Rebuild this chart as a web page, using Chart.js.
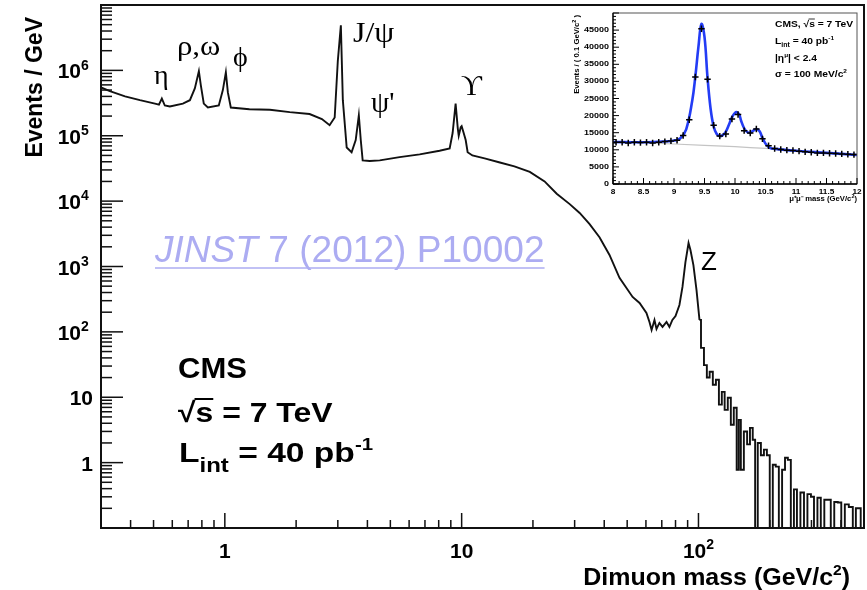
<!DOCTYPE html>
<html>
<head>
<meta charset="utf-8">
<script src="https://cdn.jsdelivr.net/npm/chart.js@4.4.1/dist/chart.umd.min.js"></script>
<style>
  html, body { margin: 0; padding: 0; background: #fff; }
  #wrap { position: relative; width: 867px; height: 590px; overflow: hidden; }
  #main { position: absolute; left: 0; top: 0; }
  #inset { position: absolute; left: 555px; top: 0; }
</style>
</head>
<body>
<div id="wrap">
  <canvas id="main" width="867" height="590"></canvas>
  <canvas id="inset" width="312" height="205"></canvas>
</div>
<script>
// espectro de masa dimuonica (parte continua), GeV / eventos por GeV
const masas = [0.30, 0.327, 0.379, 0.438, 0.507, 0.527, 0.542, 0.558, 0.586, 0.665,
  0.712, 0.747, 0.777, 0.792, 0.815, 0.848, 0.943, 0.981, 1.01, 1.03,
  1.06, 1.27, 1.55, 1.88, 2.28, 2.57, 2.77, 2.91, 3.00, 3.09,
  3.15, 3.27, 3.43, 3.57, 3.68, 3.75, 3.82, 4.09, 4.51, 5.47,
  6.65, 8.07, 8.90, 9.16, 9.43, 9.63, 9.72, 9.91, 10.0, 10.2,
  10.4, 10.6, 11.1, 12.5, 14.5, 16.7, 19.4, 22.4, 25.2, 28.6,
  31.5, 34.7, 38.2, 42.1, 46.4, 52.7, 56.4, 60.3, 62.1, 63.4,
  65.2, 66.5, 68.4, 70.5, 73.3, 75.4, 77.6, 80.0, 83.1, 85.6,
  88.1, 90.8, 92.5, 95.2, 98.1, 101];
const eventos = [5.5e5, 4.8e5, 4.0e5, 3.5e5, 3.1e5, 3.0e5, 3.7e5, 2.9e5, 2.8e5, 3.1e5,
  3.5e5, 5.3e5, 9.7e5, 5.9e5, 3.1e5, 2.7e5, 2.9e5, 5.0e5, 9.3e5, 4.6e5,
  2.7e5, 2.54e5, 2.5e5, 2.3e5, 2.15e5, 1.8e5, 1.45e5, 1.9e5, 1.4e6, 4.9e6,
  3.5e5, 6.6e4, 5.6e4, 8.6e4, 2.05e5, 8.6e4, 4.2e4, 4.1e4, 4.2e4, 4.7e4,
  5.2e4, 5.9e4, 6.4e4, 1.1e5, 3.1e5, 1.3e5, 1.0e5, 1.35e5, 1.4e5, 1.1e5,
  8.6e4, 5.6e4, 5.0e4, 4.5e4, 3.9e4, 3.4e4, 2.8e4, 2.0e4, 1.3e4, 9000,
  6600, 4450, 2800, 1500, 670, 342, 277, 195, 142, 107,
  152, 111, 137, 119, 142, 119, 152, 175, 258, 486,
  1170, 2290, 1790, 1050, 438, 152];

// cola de alta masa (bines con pocas entradas, 0 = bin vacio)
const masasCola = [101, 104, 107, 110, 113, 117, 120, 124, 127, 131,
  135, 139, 143, 147, 149, 153, 158, 163, 167, 172,
  175, 181, 186, 192, 197, 203, 209, 215, 222, 229,
  235, 242, 249, 257, 264, 275, 283, 294, 303, 312,
  324, 333, 347, 357, 367, 382, 393, 409, 421, 442,
  455, 469, 500];
const eventosCola = [152, 57, 31, 20, 24.5, 15.5, 18.5, 7.7, 12.1, 6.4,
  9.8, 3.8, 6.9, 0.78, 4.5, 0.78, 3.0, 1.9, 3.4, 2.24,
  0, 2.0, 1.3, 1.58, 1.3, 0, 0.93, 0.87, 0, 0.78,
  1.19, 1.1, 0, 0.39, 0, 0.35, 0, 0.33, 0.30, 0,
  0.29, 0, 0.27, 0.27, 0, 0.25, 0.245, 0, 0.23, 0.21,
  0, 0.2, 0];

const ticksY = [1, 10, 100, 1e3, 1e4, 1e5, 1e6];
const ticksX = [1, 10, 100];

// recuadro: region del Upsilon, bines de 0.1 GeV
const binesUps = [8.05, 8.15, 8.25, 8.35, 8.45, 8.55, 8.65, 8.75, 8.85, 8.95,
  9.05, 9.15, 9.25, 9.35, 9.45, 9.55, 9.65, 9.75, 9.85, 9.95,
  10.05, 10.15, 10.25, 10.35, 10.45, 10.55, 10.65, 10.75, 10.85, 10.95,
  11.05, 11.15, 11.25, 11.35, 11.45, 11.55, 11.65, 11.75, 11.85, 11.95];
const cuentasUps = [12200, 12200, 12000, 12200, 12100, 12200, 12000, 12200, 12400, 12600,
  12800, 14200, 18800, 31300, 45400, 30600, 17200, 14000, 14600, 19000,
  20300, 15600, 14900, 16100, 13200, 11200, 10400, 10100, 9900, 9800,
  9600, 9400, 9300, 9100, 9100, 9000, 8900, 8800, 8700, 8600];
const ajusteMasa = [8.0, 8.5, 8.9, 9.0, 9.1, 9.2, 9.3, 9.35, 9.4, 9.45,
  9.5, 9.55, 9.6, 9.65, 9.7, 9.75, 9.8, 9.85, 9.9, 9.95,
  10.0, 10.03, 10.07, 10.1, 10.15, 10.2, 10.25, 10.3, 10.35, 10.4,
  10.45, 10.5, 10.55, 10.6, 10.7, 11.0, 11.5, 12.0];
const ajusteValor = [12300, 12200, 12500, 12700, 13300, 16000, 24500, 31500, 40000, 46800,
  43000, 31000, 22000, 16800, 14600, 14000, 14300, 15300, 17300, 19500,
  20800, 21000, 20300, 18500, 16300, 15200, 15000, 15600, 16100, 15500,
  13500, 11800, 10800, 10400, 10200, 9700, 9100, 8500];
const fondoMasa = [8.0, 9.0, 10.0, 10.5, 11.0, 12.0];
const fondoValor = [12300, 11700, 10900, 10400, 9800, 8500];
const ticksInsetY = [0, 5000, 10000, 15000, 20000, 25000, 30000, 35000, 40000, 45000];
const ticksInsetX = [8, 8.5, 9, 9.5, 10, 10.5, 11, 11.5, 12];

const SANS = '"Liberation Sans", Arial, sans-serif';
const SERIF = '"Liberation Serif", "Times New Roman", serif';

// escribe trozos [texto, px, dy, fuente] uno detras de otro
function anchoTrozos(ctx, partes) {
  let w = 0;
  for (const [t, px, dy, f] of partes) {
    ctx.font = f || `bold ${px}px ${SANS}`;
    w += ctx.measureText(t).width;
  }
  return w;
}
function escribir(ctx, x, y, partes, align, estira) {
  const k = estira || 1;
  let cx = x;
  const w = anchoTrozos(ctx, partes) * k;
  if (align === 'right') cx = x - w;
  if (align === 'center') cx = x - w / 2;
  ctx.textAlign = 'left';
  for (const [t, px, dy, f] of partes) {
    ctx.font = f || `bold ${px}px ${SANS}`;
    ctx.save();
    ctx.translate(cx, y + dy);
    ctx.scale(k, 1);
    ctx.fillText(t, 0, 0);
    ctx.restore();
    cx += ctx.measureText(t).width * k;
  }
  return cx;
}
function potencia(v, grande, chico) {
  const e = Math.round(Math.log10(v));
  if (e === 0) return [['1', grande, 0]];
  if (e === 1) return [['10', grande, 0]];
  return [['10', grande, 0], [String(e), chico, -grande * 0.42]];
}
function linea(ctx, x1, y1, x2, y2) {
  ctx.beginPath(); ctx.moveTo(x1, y1); ctx.lineTo(x2, y2); ctx.stroke();
}

const ejesPrincipal = {
  id: 'ejesPrincipal',
  afterDraw(chart) {
    const ctx = chart.ctx, a = chart.chartArea;
    const sx = chart.scales.x, sy = chart.scales.y;
    ctx.save();
    ctx.strokeStyle = '#111';
    ctx.lineWidth = 2;
    ctx.strokeRect(a.left, a.top, a.right - a.left, a.bottom - a.top);

    // ticks hacia adentro, estilo ROOT
    ctx.lineWidth = 1.5;
    for (let e = -1; e < 7; e++) {
      for (let k = 1; k < 10; k++) {
        const y = sy.getPixelForValue(k * Math.pow(10, e));
        linea(ctx, a.left, y, a.left + (k === 1 ? 22 : 11), y);
      }
    }
    for (let e = -1; e < 3; e++) {
      for (let k = 1; k < 10; k++) {
        const v = k * Math.pow(10, e);
        if (v < sx.min || v > sx.max) continue;
        const x = sx.getPixelForValue(v);
        linea(ctx, x, a.bottom, x, a.bottom - (k === 1 ? 15 : 8));
      }
    }

    ctx.fillStyle = '#000';
    ctx.textBaseline = 'alphabetic';
    for (const v of ticksY) {
      const y = sy.getPixelForValue(v);
      const p = potencia(v, 21, 14);
      const x = v >= 100 ? 81 + anchoTrozos(ctx, p.slice(1)) : 93;
      escribir(ctx, x, y + 8, p, 'right');
    }
    for (const v of ticksX) {
      escribir(ctx, sx.getPixelForValue(v), 558, potencia(v, 21, 14), 'center');
    }

    // titulos de ejes
    escribir(ctx, 850, 585, [['Dimuon mass (GeV/c', 24, 0], ['2', 15, -10], [')', 24, 0]], 'right', 1.04);
    ctx.save();
    ctx.translate(42, 17);
    ctx.rotate(-Math.PI / 2);
    escribir(ctx, 0, 0, [['Events / GeV', 23, 0]], 'right');
    ctx.restore();

    // etiquetas de resonancias
    ctx.font = `28px ${SERIF}`;
    ctx.textAlign = 'left';
    ctx.fillText('η', 154, 84);
    escribir(ctx, 177, 55, [['ρ,ω', 0, 0, `28px ${SERIF}`]], 'left', 1.1);
    ctx.fillText('ϕ', 233, 66);
    escribir(ctx, 353, 42, [['J/ψ', 0, 0, `29px ${SERIF}`]], 'left', 1.1);
    ctx.fillText("ψ'", 371, 112);
    ctx.fillText('ϒ', 461, 95);
    ctx.font = `26px ${SANS}`;
    ctx.fillText('Z', 701, 270);

    // referencia
    ctx.fillStyle = 'rgb(172,172,242)';
    ctx.strokeStyle = 'rgb(172,172,242)';
    const fin = escribir(ctx, 155, 262, [['JINST', 0, 0, `italic 36px ${SANS}`], [' 7 (2012) P10002', 0, 0, `36px ${SANS}`]], 'left', 1.03);
    ctx.lineWidth = 1.5;
    linea(ctx, 155, 268, fin, 268);

    // texto CMS
    ctx.fillStyle = '#000';
    ctx.strokeStyle = '#000';
    escribir(ctx, 178, 378, [['CMS', 29, 0]], 'left', 1.07);
    const xs = escribir(ctx, 178, 422, [['√', 28, 0]], 'left', 1.14);
    const xe = escribir(ctx, xs, 422, [['s', 28, 0]], 'left', 1.14);
    ctx.lineWidth = 2;
    linea(ctx, xs - 1, 399, xe, 399);
    escribir(ctx, xe, 422, [[' = 7 TeV', 28, 0]], 'left', 1.14);
    escribir(ctx, 179, 462, [['L', 28, 0], ['int', 20, 10], [' = 40 pb', 28, 0], ['-1', 17, -12]], 'left', 1.2);
    ctx.restore();
  }
};

const ejesInset = {
  id: 'ejesInset',
  afterDraw(chart) {
    const ctx = chart.ctx, a = chart.chartArea;
    const sx = chart.scales.x, sy = chart.scales.y;
    ctx.save();
    ctx.strokeStyle = '#555';
    ctx.lineWidth = 1;
    ctx.strokeRect(a.left, a.top, a.right - a.left, a.bottom - a.top);
    ctx.strokeStyle = '#000';
    ctx.lineWidth = 1.3;
    linea(ctx, a.left, a.top, a.left, a.bottom);
    linea(ctx, a.left, a.bottom, a.right, a.bottom);
    ctx.lineWidth = 1;
    for (let v = 0; v <= 50000; v += 1000) {
      const y = sy.getPixelForValue(v);
      linea(ctx, a.left, y, a.left + (v % 5000 === 0 ? 6 : 3), y);
    }
    for (let i = 0; i <= 40; i++) {
      const x = sx.getPixelForValue(8 + i * 0.1);
      linea(ctx, x, a.bottom, x, a.bottom - (i % 5 === 0 ? 6 : 3));
    }
    ctx.fillStyle = '#000';
    ctx.textBaseline = 'middle';
    for (const v of ticksInsetY) {
      escribir(ctx, a.left - 4, sy.getPixelForValue(v), [[String(v), 7.5, 0]], 'right', 1.2);
    }
    ctx.textBaseline = 'alphabetic';
    for (const v of ticksInsetX) {
      escribir(ctx, sx.getPixelForValue(v), a.bottom + 10, [[String(v), 7.5, 0]], 'center', 1.1);
    }
    escribir(ctx, a.right, a.bottom + 17, [['μ⁺μ⁻ mass (GeV/c', 7, 0], ['2', 5, -3], [')', 7, 0]], 'right', 1.1);
    ctx.save();
    ctx.translate(a.left - 34, a.top + 2);
    ctx.rotate(-Math.PI / 2);
    escribir(ctx, 0, 0, [['Events / ( 0.1 GeV/c', 7, 0], ['2', 5, -3], [' )', 7, 0]], 'right', 1.1);
    ctx.restore();

    const x0 = a.left + 162;
    const k = 1.08;
    const xs = escribir(ctx, x0, 27, [['CMS, √', 9.5, 0]], 'left', k);
    const xe = escribir(ctx, xs, 27, [['s', 9.5, 0]], 'left', k);
    ctx.lineWidth = 0.8;
    linea(ctx, xs - 0.5, 19, xe, 19);
    escribir(ctx, xe, 27, [[' = 7 TeV', 9.5, 0]], 'left', k);
    escribir(ctx, x0, 44, [['L', 9.5, 0], ['int', 6.5, 3], [' = 40 pb', 9.5, 0], ['-1', 6, -4]], 'left', k);
    escribir(ctx, x0, 61, [['|η', 9.5, 0], ['μ', 6, -4], ['| < 2.4', 9.5, 0]], 'left', k);
    escribir(ctx, x0, 77, [['σ = 100 MeV/c', 9.5, 0], ['2', 6, -4]], 'left', k);
    ctx.restore();
  }
};

new Chart(document.getElementById('main'), {
  type: 'line',
  data: {
    datasets: [{
      data: masas.map((m, i) => ({ x: m, y: eventos[i] })),
      borderColor: '#111',
      borderWidth: 1.9,
      pointRadius: 0,
      tension: 0
    }, {
      // bin vacio: se lleva por debajo del eje y se recorta
      data: masasCola.map((m, i) => ({ x: m, y: eventosCola[i] > 0 ? eventosCola[i] : 0.01 })),
      borderColor: '#111',
      borderWidth: 1.9,
      pointRadius: 0,
      stepped: 'middle'
    }]
  },
  options: {
    responsive: false,
    animation: false,
    events: [],
    layout: { padding: { left: 101, right: 3, top: 5, bottom: 62 } },
    plugins: { legend: { display: false }, tooltip: { enabled: false } },
    scales: {
      x: { type: 'logarithmic', min: 0.3, max: 500, display: false },
      y: { type: 'logarithmic', min: 0.1, max: 1e7, display: false }
    }
  },
  plugins: [ejesPrincipal]
});

new Chart(document.getElementById('inset'), {
  type: 'line',
  data: {
    datasets: [{
      data: binesUps.map((m, i) => ({ x: m, y: cuentasUps[i] })),
      showLine: false,
      pointStyle: 'cross',
      pointRadius: 3.2,
      borderColor: '#000',
      borderWidth: 1.5,
      order: 0
    }, {
      data: ajusteMasa.map((m, i) => ({ x: m, y: ajusteValor[i] })),
      borderColor: 'rgb(35,60,245)',
      borderWidth: 2.6,
      pointRadius: 0,
      tension: 0.4,
      order: 1
    }, {
      data: fondoMasa.map((m, i) => ({ x: m, y: fondoValor[i] })),
      borderColor: '#c4c4c4',
      borderWidth: 1.2,
      pointRadius: 0,
      tension: 0.3,
      order: 2
    }]
  },
  options: {
    responsive: false,
    animation: false,
    events: [],
    layout: { padding: { left: 58, right: 10, top: 13, bottom: 21 } },
    plugins: { legend: { display: false }, tooltip: { enabled: false } },
    scales: {
      x: { type: 'linear', min: 8, max: 12, display: false },
      y: { type: 'linear', min: 0, max: 50000, display: false }
    }
  },
  plugins: [ejesInset]
});
</script>
</body>
</html>
